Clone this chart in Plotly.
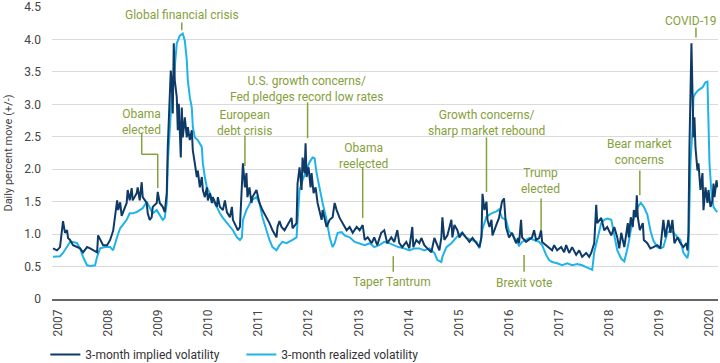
import plotly.graph_objects as go

# ---- data (x in chart-year units, values = daily percent move) ----
implied_x = [2006.90, 2006.98, 2007.04, 2007.10, 2007.14, 2007.18, 2007.20, 2007.24, 2007.30, 2007.38,
             2007.44, 2007.50, 2007.58, 2007.64, 2007.70, 2007.78, 2007.80, 2007.84, 2007.90, 2007.98,
             2008.04, 2008.10, 2008.14, 2008.18, 2008.20, 2008.24, 2008.27, 2008.29, 2008.37, 2008.39,
             2008.43, 2008.47, 2008.49, 2008.57, 2008.59, 2008.63, 2008.67, 2008.69, 2008.77, 2008.79,
             2008.83, 2008.87, 2008.89, 2008.97, 2008.99, 2009.03, 2009.09, 2009.13, 2009.17, 2009.19,
             2009.21, 2009.25, 2009.27, 2009.29, 2009.31, 2009.33, 2009.37, 2009.39, 2009.41, 2009.45,
             2009.47, 2009.49, 2009.53, 2009.57, 2009.59, 2009.63, 2009.67, 2009.69, 2009.73, 2009.77,
             2009.79, 2009.83, 2009.87, 2009.89, 2009.93, 2009.97, 2009.99, 2010.03, 2010.07, 2010.09,
             2010.17, 2010.19, 2010.23, 2010.29, 2010.33, 2010.37, 2010.43, 2010.47, 2010.49, 2010.57,
             2010.59, 2010.63, 2010.67, 2010.69, 2010.73, 2010.76, 2010.78, 2010.82, 2010.86, 2010.88,
             2010.96, 2011.02, 2011.08, 2011.16, 2011.22, 2011.28, 2011.36, 2011.38, 2011.42, 2011.46,
             2011.52, 2011.58, 2011.66, 2011.68, 2011.76, 2011.78, 2011.82, 2011.86, 2011.88, 2011.92,
             2011.94, 2011.96, 2012.00, 2012.04, 2012.06, 2012.10, 2012.14, 2012.18, 2012.22, 2012.26,
             2012.28, 2012.36, 2012.42, 2012.48, 2012.52, 2012.56, 2012.62, 2012.68, 2012.76, 2012.82,
             2012.88, 2012.96, 2013.02, 2013.08, 2013.12, 2013.18, 2013.26, 2013.31, 2013.37, 2013.45,
             2013.51, 2013.57, 2013.65, 2013.71, 2013.77, 2013.81, 2013.87, 2013.95, 2014.01, 2014.07,
             2014.09, 2014.15, 2014.21, 2014.25, 2014.31, 2014.37, 2014.45, 2014.51, 2014.55, 2014.61,
             2014.65, 2014.67, 2014.71, 2014.77, 2014.85, 2014.87, 2014.91, 2014.97, 2015.01, 2015.07,
             2015.15, 2015.21, 2015.27, 2015.35, 2015.41, 2015.45, 2015.47, 2015.51, 2015.55, 2015.57,
             2015.61, 2015.65, 2015.67, 2015.75, 2015.80, 2015.86, 2015.90, 2015.94, 2016.00, 2016.06,
             2016.14, 2016.18, 2016.20, 2016.24, 2016.26, 2016.34, 2016.40, 2016.46, 2016.50, 2016.54,
             2016.60, 2016.64, 2016.66, 2016.74, 2016.80, 2016.86, 2016.90, 2016.96, 2017.04, 2017.10,
             2017.14, 2017.20, 2017.26, 2017.34, 2017.40, 2017.46, 2017.54, 2017.60, 2017.64, 2017.70,
             2017.74, 2017.76, 2017.84, 2017.90, 2017.96, 2018.04, 2018.10, 2018.16, 2018.20, 2018.24,
             2018.30, 2018.37, 2018.39, 2018.43, 2018.47, 2018.49, 2018.53, 2018.55, 2018.57, 2018.61,
             2018.67, 2018.69, 2018.76, 2018.82, 2018.88, 2018.96, 2019.02, 2019.08, 2019.12, 2019.18,
             2019.22, 2019.26, 2019.30, 2019.36, 2019.42, 2019.48, 2019.54, 2019.56, 2019.58, 2019.60,
             2019.64, 2019.66, 2019.68, 2019.70, 2019.72, 2019.76, 2019.78, 2019.82, 2019.86, 2019.88,
             2019.92, 2019.96, 2019.98, 2020.02, 2020.06, 2020.08, 2020.10, 2020.14, 2020.16]
implied_y = [0.78, 0.75, 0.80, 1.20, 1.02, 1.06, 0.94, 0.91, 0.83, 0.80,
             0.78, 0.72, 0.80, 0.78, 0.75, 0.72, 0.98, 0.91, 0.83, 0.83,
             0.91, 1.05, 1.28, 1.52, 1.37, 1.49, 1.28, 1.32, 1.48, 1.68,
             1.52, 1.71, 1.52, 1.63, 1.72, 1.52, 1.80, 1.57, 1.48, 1.32,
             1.22, 1.26, 1.42, 1.48, 1.65, 1.48, 1.42, 1.34, 1.63, 2.34,
             2.70, 3.52, 3.32, 2.86, 3.94, 3.37, 3.11, 2.60, 3.01, 2.18,
             2.95, 2.49, 2.80, 2.49, 2.65, 2.45, 2.60, 2.29, 2.09, 1.88,
             1.98, 1.72, 1.88, 1.68, 1.57, 1.72, 1.52, 1.63, 1.48, 1.57,
             1.42, 1.57, 1.42, 1.37, 1.52, 1.34, 1.26, 1.42, 1.22, 1.11,
             1.06, 1.11, 1.83, 2.09, 1.72, 1.94, 1.57, 1.72, 1.48, 1.57,
             1.68, 1.48, 1.37, 1.26, 1.17, 1.06, 0.95, 1.11, 1.20, 1.11,
             1.06, 1.14, 1.25, 1.09, 1.17, 1.78, 2.03, 1.68, 2.18, 1.94,
             2.40, 1.88, 2.03, 1.72, 1.94, 1.63, 1.72, 1.48, 1.32, 1.22,
             1.37, 1.11, 1.22, 1.26, 1.48, 1.37, 1.25, 1.17, 1.06, 1.11,
             1.02, 1.11, 1.06, 1.14, 0.91, 0.95, 0.86, 0.95, 0.83, 1.02,
             1.06, 0.86, 0.95, 0.88, 1.06, 0.86, 0.80, 0.88, 0.78, 1.11,
             0.80, 0.91, 0.86, 0.94, 0.83, 0.78, 0.72, 0.94, 0.86, 0.75,
             0.95, 1.26, 0.91, 0.98, 1.22, 0.95, 1.14, 1.06, 0.95, 1.02,
             0.94, 0.88, 0.94, 0.86, 0.80, 0.95, 1.62, 1.37, 1.50, 1.22,
             1.11, 1.22, 0.98, 1.15, 1.25, 1.50, 1.55, 1.11, 0.95, 1.02,
             0.86, 0.94, 0.86, 1.22, 0.95, 0.88, 0.91, 0.95, 1.06, 0.91,
             0.94, 1.06, 0.88, 0.83, 0.80, 0.75, 0.83, 0.75, 0.80, 0.72,
             0.83, 0.71, 0.80, 0.68, 0.75, 0.65, 0.71, 0.65, 0.71, 0.86,
             1.45, 1.17, 1.25, 1.06, 1.11, 0.98, 1.11, 0.95, 0.78, 1.02,
             0.80, 1.17, 0.95, 1.26, 1.11, 1.37, 1.26, 1.60, 1.26, 1.06,
             1.17, 0.91, 0.86, 0.78, 0.80, 0.83, 0.78, 1.22, 0.95, 1.22,
             1.02, 1.22, 0.86, 0.95, 0.86, 0.80, 0.86, 0.75, 1.02, 2.34,
             3.94, 2.86, 2.49, 2.80, 2.34, 1.98, 2.09, 1.68, 1.94, 1.37,
             1.72, 1.48, 1.68, 1.42, 1.52, 1.78, 1.57, 1.83, 1.72]

realized_x = [2006.90, 2007.04, 2007.10, 2007.18, 2007.24, 2007.30, 2007.38, 2007.44, 2007.50, 2007.58,
              2007.64, 2007.74, 2007.78, 2007.84, 2007.94, 2008.04, 2008.10, 2008.18, 2008.24, 2008.29,
              2008.37, 2008.43, 2008.49, 2008.57, 2008.63, 2008.69, 2008.77, 2008.83, 2008.89, 2008.97,
              2009.03, 2009.09, 2009.13, 2009.17, 2009.19, 2009.23, 2009.27, 2009.29, 2009.33, 2009.37,
              2009.43, 2009.49, 2009.53, 2009.57, 2009.59, 2009.63, 2009.67, 2009.69, 2009.73, 2009.79,
              2009.87, 2009.89, 2009.93, 2009.97, 2010.03, 2010.09, 2010.17, 2010.23, 2010.29, 2010.37,
              2010.43, 2010.49, 2010.57, 2010.63, 2010.67, 2010.69, 2010.76, 2010.86, 2010.96, 2011.02,
              2011.08, 2011.16, 2011.22, 2011.28, 2011.36, 2011.42, 2011.48, 2011.56, 2011.62, 2011.68,
              2011.76, 2011.78, 2011.82, 2011.88, 2011.96, 2012.02, 2012.08, 2012.12, 2012.16, 2012.22,
              2012.28, 2012.36, 2012.42, 2012.48, 2012.52, 2012.58, 2012.66, 2012.72, 2012.82, 2012.92,
              2013.02, 2013.12, 2013.22, 2013.31, 2013.41, 2013.51, 2013.61, 2013.71, 2013.79, 2013.91,
              2014.01, 2014.11, 2014.21, 2014.31, 2014.41, 2014.51, 2014.57, 2014.65, 2014.67, 2014.75,
              2014.85, 2014.95, 2015.05, 2015.15, 2015.25, 2015.35, 2015.41, 2015.47, 2015.55, 2015.65,
              2015.75, 2015.80, 2015.86, 2015.94, 2016.00, 2016.06, 2016.14, 2016.20, 2016.26, 2016.34,
              2016.40, 2016.50, 2016.60, 2016.66, 2016.74, 2016.80, 2016.86, 2016.96, 2017.06, 2017.16,
              2017.26, 2017.36, 2017.46, 2017.54, 2017.60, 2017.66, 2017.70, 2017.76, 2017.84, 2017.90,
              2017.96, 2018.04, 2018.10, 2018.16, 2018.24, 2018.30, 2018.37, 2018.43, 2018.49, 2018.57,
              2018.63, 2018.69, 2018.76, 2018.82, 2018.88, 2018.96, 2019.02, 2019.08, 2019.16, 2019.22,
              2019.28, 2019.36, 2019.42, 2019.48, 2019.56, 2019.58, 2019.62, 2019.66, 2019.68, 2019.72,
              2019.78, 2019.86, 2019.92, 2019.96, 2019.98, 2020.00, 2020.04, 2020.08, 2020.12, 2020.16]
realized_y = [0.65, 0.66, 0.71, 0.80, 0.88, 0.88, 0.86, 0.78, 0.65, 0.52,
              0.51, 0.52, 0.65, 0.78, 0.80, 0.80, 0.75, 0.96, 1.09, 1.14,
              1.22, 1.32, 1.32, 1.34, 1.37, 1.40, 1.50, 1.40, 1.32, 1.37,
              1.30, 1.22, 1.25, 1.48, 2.09, 2.70, 3.11, 3.22, 3.63, 3.94,
              4.06, 4.09, 3.98, 3.68, 3.37, 3.11, 2.95, 2.65, 2.49, 2.45,
              2.34, 2.09, 1.88, 1.72, 1.63, 1.52, 1.42, 1.32, 1.25, 1.17,
              1.11, 1.06, 0.95, 0.91, 0.95, 1.22, 1.37, 1.52, 1.57, 1.48,
              1.26, 1.06, 0.91, 0.80, 0.75, 0.83, 0.88, 0.86, 0.88, 0.91,
              0.95, 1.26, 1.68, 1.83, 1.98, 2.11, 2.18, 2.17, 1.94, 1.68,
              1.48, 1.22, 0.95, 0.80, 0.86, 1.02, 1.03, 0.98, 0.95, 0.88,
              0.86, 0.83, 0.86, 0.80, 0.83, 0.88, 0.86, 0.83, 0.80, 0.78,
              0.75, 0.78, 0.78, 0.75, 0.78, 0.71, 0.60, 0.57, 0.65, 0.80,
              0.86, 0.95, 1.02, 0.94, 0.91, 0.88, 0.78, 1.08, 1.27, 1.32,
              1.35, 1.38, 1.25, 1.22, 1.04, 1.00, 0.90, 0.82, 0.88, 0.91,
              0.94, 0.91, 0.88, 0.83, 0.68, 0.60, 0.57, 0.55, 0.52, 0.55,
              0.52, 0.54, 0.52, 0.49, 0.47, 0.45, 0.72, 0.91, 1.17, 1.22,
              1.24, 1.22, 0.98, 0.75, 0.62, 0.58, 0.80, 1.06, 1.24, 1.42,
              1.48, 1.42, 1.30, 1.06, 0.90, 0.80, 0.78, 0.80, 1.02, 1.06,
              1.02, 0.95, 0.91, 0.71, 0.63, 0.71, 2.09, 2.60, 3.11, 3.17,
              3.22, 3.26, 3.34, 3.35, 2.80, 2.09, 1.63, 1.42, 1.37, 1.34]

years = list(range(2007, 2021))
year_labels = [str(y) for y in years]
y_ticks = [0, 0.5, 1.0, 1.5, 2.0, 2.5, 3.0, 3.5, 4.0, 4.5]
y_tick_labels = ["0", "0.5", "1.0", "1.5", "2.0", "2.5", "3.0", "3.5", "4.0", "4.5"]

# ---- styling ----
FONT = "Roboto, Liberation Sans, sans-serif"
NAVY = "#0e3a68"
SKY = "#1fb3ea"
OLIVE = "#86a03c"

fig = go.Figure()
fig.add_trace(go.Scatter(x=realized_x, y=realized_y, mode="lines",
                         name="3-month realized volatility", legendrank=2,
                         line=dict(color=SKY, width=2)))
fig.add_trace(go.Scatter(x=implied_x, y=implied_y, mode="lines",
                         name="3-month implied volatility", legendrank=1,
                         line=dict(color=NAVY, width=2)))

# annotations: (text, x, y, xanchor)
notes = [
    ("Global financial crisis", 2009.47, 4.37, "center"),
    ("Obama<br>elected", 2008.67, 2.73, "center"),
    ("European<br>debt crisis", 2010.73, 2.72, "center"),
    ("U.S. growth concerns/<br>Fed pledges record low rates", 2011.96, 3.24, "center"),
    ("Obama<br>reelected", 2013.10, 2.21, "center"),
    ("Taper Tantrum", 2013.67, 0.26, "center"),
    ("Growth concerns/<br>sharp market rebound", 2015.55, 2.72, "center"),
    ("Trump<br>elected", 2016.62, 1.82, "center"),
    ("Brexit vote", 2016.30, 0.25, "center"),
    ("Bear market<br>concerns", 2018.61, 2.27, "center"),
    ("COVID-19", 2020.17, 4.29, "right"),
]
for txt, xx, yy, xa in notes:
    fig.add_annotation(x=xx, y=yy, text=txt, showarrow=False,
                       font=dict(family=FONT, size=12, color=OLIVE),
                       xanchor=xa, yanchor="middle", borderpad=0)

# connector lines: list of (x0, y0, x1, y1)
connectors = [
    (2009.47, 4.26, 2009.47, 4.14),
    (2008.67, 2.55, 2008.67, 2.23),
    (2008.67, 2.23, 2008.99, 2.23),
    (2008.99, 2.23, 2008.99, 1.71),
    (2010.73, 2.52, 2010.73, 2.05),
    (2011.98, 3.03, 2011.98, 2.48),
    (2013.08, 2.03, 2013.08, 1.25),
    (2013.69, 0.66, 2013.69, 0.42),
    (2015.55, 2.49, 2015.55, 1.65),
    (2016.64, 1.55, 2016.64, 1.06),
    (2016.30, 0.68, 2016.30, 0.42),
    (2018.61, 1.98, 2018.61, 1.60),
    (2019.73, 4.18, 2019.73, 4.03),
]
for x0, y0, x1, y1 in connectors:
    fig.add_shape(type="line", x0=x0, y0=y0, x1=x1, y1=y1, xref="x", yref="y",
                  line=dict(color=OLIVE, width=1.5))

fig.update_layout(
    template="none",
    width=720, height=363,
    margin=dict(l=52, r=2, t=7, b=64, autoexpand=False),
    paper_bgcolor="white", plot_bgcolor="white",
    font=dict(family=FONT, size=11, color="#444"),
    showlegend=True,
    legend=dict(orientation="h", x=-0.01, xanchor="left", y=-0.19, yanchor="middle",
                font=dict(family=FONT, size=12, color="#333"),
                entrywidth=151, entrywidthmode="pixels", traceorder="normal",
                bgcolor="rgba(0,0,0,0)", borderwidth=0),
    xaxis=dict(range=[2006.88, 2020.17], tickvals=years, ticktext=year_labels,
               tickangle=-90, showgrid=False, zeroline=False, automargin=False,
               showline=True, linecolor="#666", linewidth=1.5,
               ticks="", tickfont=dict(family=FONT, size=12, color="#444"),
               ticklabelstandoff=4),
    yaxis=dict(range=[0, 4.5], tickvals=y_ticks, ticktext=y_tick_labels,
               showgrid=True, gridcolor="#dadada", gridwidth=1, automargin=False,
               zeroline=False, showline=False, ticks="",
               tickfont=dict(family=FONT, size=12, color="#444"),
               ticklabelstandoff=10,
               title=dict(text="Daily percent move (+/-)", standoff=9,
                          font=dict(family=FONT, size=11, color="#444"))),
)

fig.write_html("out.html",
               config={"displayModeBar": False},
               post_script="document.body.style.margin='0';document.body.style.overflow='hidden';")
